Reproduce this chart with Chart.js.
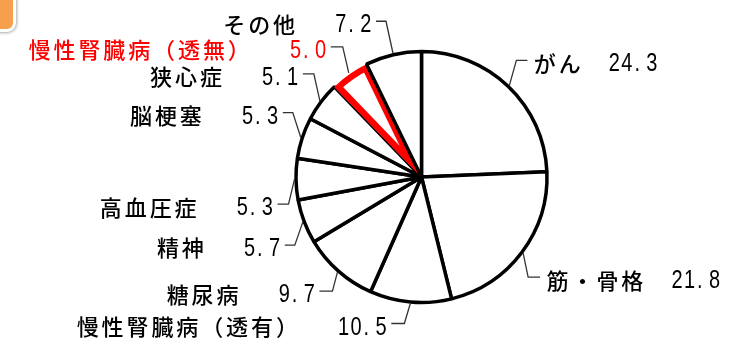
<!DOCTYPE html>
<html>
<head>
<meta charset="utf-8">
<title>疾病別 割合</title>
<script src="https://cdn.jsdelivr.net/npm/chart.js"></script>
<style>
    html, body { margin: 0; padding: 0; background: #fff; overflow: hidden; }
    #wrap { position: relative; width: 730px; height: 344px; }
    .tab { position: absolute; left: -20px; top: -20px; width: 30px; height: 46px; background: #f6a04d; border: 3px solid #fff; border-radius: 9px; box-shadow: 0 0 3px 1px #aaa; }
</style>
</head>
<body>
<div id="wrap">
    <canvas id="pie" width="730" height="344"></canvas>
    <div class="tab"></div>
</div>
<script>
// data, clockwise from 12 o'clock
const categories = ['がん', '筋・骨格', '慢性腎臓病（透有）', '糖尿病', '精神', '高血圧症', '脳梗塞', '狭心症', '慢性腎臓病（透無）', 'その他'];
const shares = [24.3, 21.8, 10.5, 9.7, 5.7, 5.3, 5.3, 5.1, 5.0, 7.2];
const highlighted = '慢性腎臓病（透無）';

// leader line per slice: [dx, dy] from the arc to the elbow, then the tick length
const leaders = [
    [7, -25, 11], [5, 24, 12], [-6, 20, -13], [-5, 19, -13], [-8, 23, -10],
    [-6, 25, -11], [-8, -25, -10], [-6, -27, -11], [-6, -26, -12], [-7, -32, -10]
];

const NAME_W = 24.9;  // full-width cell
const NUM_W = 12.5;   // half-width cell
const hi = categories.indexOf(highlighted);

function drawName(ctx, str, x, cy, color) {
    ctx.font = '500 22px "Noto Sans CJK JP"';
    ctx.fillStyle = color;
    ctx.textAlign = 'center';
    ctx.textBaseline = 'middle';
    [...str].forEach((ch, k) => ctx.fillText(ch, x + (k + 0.5) * NAME_W, cy + 1));
}

function drawNum(ctx, str, x, cy, color) {
    ctx.font = '25px "Liberation Sans"';
    ctx.fillStyle = color;
    ctx.textAlign = 'center';
    ctx.textBaseline = 'alphabetic';
    [...str].forEach((ch, k) => {
        const cx = ch === '.' ? x + k * NUM_W + 4 : x + (k + 0.5) * NUM_W;
        ctx.save();
        ctx.translate(cx, cy + 9);
        ctx.scale(0.8, 1);
        ctx.fillText(ch, 0, 0);
        ctx.restore();
    });
}

const callouts = {
    id: 'callouts',
    afterDatasetsDraw(chart) {
        const ctx = chart.ctx;
        const meta = chart.getDatasetMeta(0);
        meta.data.forEach((arc, i) => {
            const p = arc.getProps(['x', 'y', 'startAngle', 'endAngle', 'outerRadius'], true);
            const mid = (p.startAngle + p.endAngle) / 2;
            const r = p.outerRadius + 1.5;
            const ax = p.x + Math.cos(mid) * r;
            const ay = p.y + Math.sin(mid) * r;
            const [dx, dy, tick] = leaders[i];
            const ex = ax + dx, ey = ay + dy, tx = ex + tick;

            ctx.save();
            ctx.strokeStyle = '#333';
            ctx.lineWidth = 1.3;
            ctx.beginPath();
            ctx.moveTo(ax, ay);
            ctx.lineTo(ex, ey);
            ctx.lineTo(tx, ey);
            ctx.stroke();

            const color = i === hi ? '#ff0000' : '#000';
            const name = categories[i];
            const num = shares[i].toFixed(1);
            const cy = ey + 2;
            if (tick < 0) {
                const numStart = tx - 4 - num.length * NUM_W;
                drawNum(ctx, num, numStart, cy, color);
                drawName(ctx, name, numStart - 38 - [...name].length * NAME_W, cy, color);
            } else {
                const nameStart = tx + 5;
                drawName(ctx, name, nameStart, cy, color);
                drawNum(ctx, num, nameStart + [...name].length * NAME_W + 26, cy, color);
            }
            ctx.restore();
        });
    }
};

new Chart(document.getElementById('pie'), {
    type: 'pie',
    data: {
        labels: categories,
        datasets: [{
            data: shares,
            backgroundColor: '#ffffff',
            borderColor: categories.map((_, i) => i === hi ? '#ff0000' : '#000000'),
            borderWidth: categories.map((_, i) => i === hi ? 6 : 3.5),
            borderAlign: ctx => ctx.dataIndex === hi ? 'inner' : 'center',
            radius: 125.5
        }]
    },
    options: {
        responsive: false,
        devicePixelRatio: 1,
        animation: false,
        events: [],
        layout: { padding: { left: 113, right: 0, top: 10, bottom: 0 } },
        plugins: {
            legend: { display: false },
            tooltip: { enabled: false }
        }
    },
    plugins: [callouts]
});
</script>
</body>
</html>
